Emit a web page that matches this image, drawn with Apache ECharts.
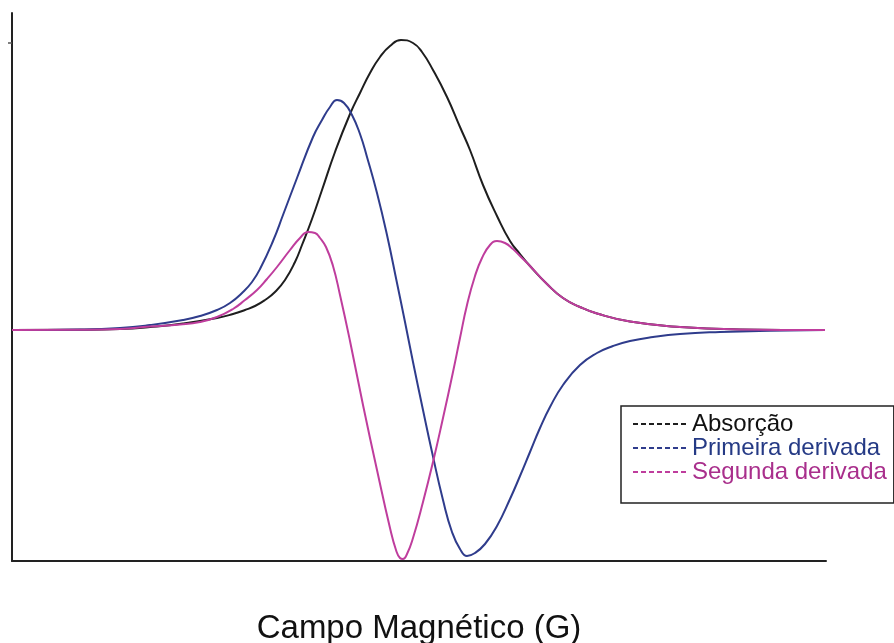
<!DOCTYPE html>
<html>
<head>
<meta charset="utf-8">
<script src="https://cdn.jsdelivr.net/npm/echarts@6/dist/echarts.min.js"></script>
<style>
  html, body { margin: 0; padding: 0; background: #fff; }
  #chart { width: 894px; height: 643px; }
</style>
</head>
<body>
<div id="chart"></div>
<script>
// Field positions (arbitrary units along the sweep) and signal intensities (baseline = 0)
const campoAbs = [0, 68, 108, 138, 171, 205, 221, 233, 243, 253, 263, 273, 283, 290, 300, 310, 323, 338, 348, 358, 368, 378, 389, 401, 410, 421, 435, 448, 458, 471, 485, 498, 508, 518, 535, 551, 568, 585, 618, 668, 728, 813];
const absorcao = [0, 0.2, 1, 3, 6.5, 12, 16, 20, 24, 30, 38, 50, 68, 85, 111, 140, 178, 216, 237, 257, 273, 284, 290, 287, 278, 260, 233, 203, 180, 145, 114, 89, 76, 64, 46, 32, 23, 16.5, 8.5, 3, 0.6, 0];

const campoPrim = [0, 68, 108, 138, 171, 188, 205, 218, 231, 240, 248, 261, 271, 285, 301, 310, 318, 325, 332, 340, 348, 355, 365, 375, 385, 393, 401, 411, 420, 431, 440, 448, 455, 463, 473, 485, 498, 508, 518, 528, 538, 551, 568, 585, 601, 618, 641, 668, 708, 758, 813];
const primeira = [0, 0.5, 2, 5, 10, 14, 20, 27, 38, 48, 61, 89, 115, 152, 193, 210, 223, 230, 227, 215, 196, 173, 137, 95, 47, 8, -32, -80, -122, -170, -202, -219, -226, -223, -214, -196, -169, -146, -122, -98, -77, -55, -35, -23, -16, -11, -7, -4, -2, -0.7, 0];

const campoSeg = [0, 68, 108, 138, 168, 188, 205, 221, 233, 245, 255, 265, 278, 288, 296, 303, 308, 314, 321, 328, 338, 351, 365, 378, 384, 388, 391, 395, 401, 411, 421, 431, 441, 448, 455, 463, 470, 478, 485, 493, 501, 508, 518, 535, 551, 568, 585, 618, 668, 728, 813];
const segunda = [0, 0.2, 1, 3.5, 5.5, 8, 13, 21, 30, 40, 51, 63, 80, 92, 98, 97, 92, 83, 64, 35, -11, -75, -140, -198, -220, -228, -229, -224, -208, -172, -132, -88, -42, -8, 25, 54, 72, 85, 89, 87, 81, 74, 64, 46, 32, 23, 16.5, 8.5, 3, 0.6, 0];

const nomes = ['Absorção', 'Primeira derivada', 'Segunda derivada'];
const cores = ['#1e1e1e', '#2f3c8c', '#bf3d9d'];
const coresTexto = ['#111111', '#253a85', '#a92f8c'];

const zip = (xs, ys) => xs.map((x, i) => [x, ys[i]]);
const curvas = [zip(campoAbs, absorcao), zip(campoPrim, primeira), zip(campoSeg, segunda)];

const fonte = '"Liberation Sans", Arial, sans-serif';

const chart = echarts.init(document.getElementById('chart'), null, { renderer: 'canvas' });

chart.setOption({
  animation: false,
  backgroundColor: '#ffffff',
  grid: { left: 12, right: 68, top: 13, bottom: 82, containLabel: false, outerBoundsMode: 'none' },
  xAxis: {
    type: 'value',
    min: 0,
    max: 814,
    name: 'Campo Magnético (G)',
    nameLocation: 'middle',
    nameGap: 51,
    nameTextStyle: { fontFamily: fonte, fontSize: 33, color: '#111' },
    axisLine: { show: true, onZero: false, lineStyle: { color: '#222', width: 2 } },
    axisTick: { show: false },
    axisLabel: { show: false },
    splitLine: { show: false }
  },
  yAxis: {
    type: 'value',
    min: -231,
    max: 317,
    axisLine: { show: true, onZero: false, lineStyle: { color: '#222', width: 2 } },
    axisTick: { show: true, length: 4, customValues: [287], lineStyle: { color: '#555', width: 1.5 } },
    axisLabel: { show: false },
    splitLine: { show: false }
  },
  legend: {
    orient: 'vertical',
    left: 621,
    top: 406,
    padding: [6, 7, 19, 11],
    itemGap: 0,
    itemWidth: 54,
    itemHeight: 14,
    borderColor: '#222',
    borderWidth: 1.5,
    backgroundColor: '#fff',
    itemStyle: { opacity: 0 },
    lineStyle: { type: [5, 3], width: 2 },
    textStyle: { fontFamily: fonte, fontSize: 24, lineHeight: 23 },
    data: nomes.map((n, i) => ({ name: n, textStyle: { color: coresTexto[i] } }))
  },
  series: nomes.map((n, i) => ({
    name: n,
    type: 'line',
    data: curvas[i],
    symbol: 'none',
    smooth: 0.5,
    lineStyle: { color: cores[i], width: 2 },
    itemStyle: { color: cores[i] },
    z: 2 + i
  }))
});
</script>
</body>
</html>
